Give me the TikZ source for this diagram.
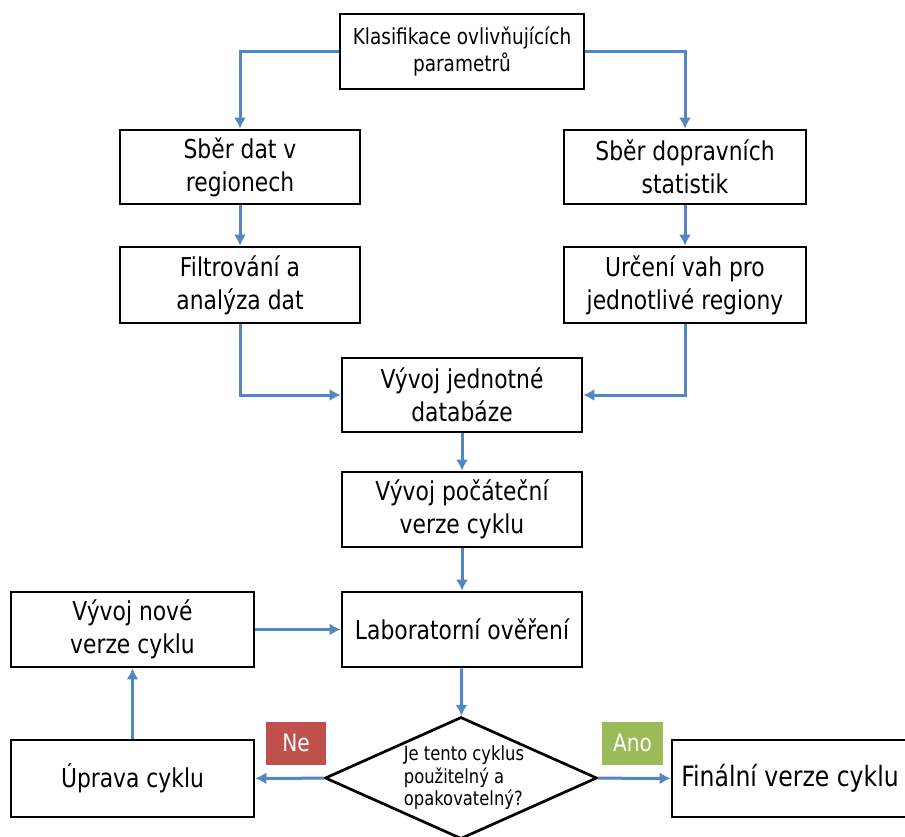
\documentclass[tikz,border=0pt]{standalone}
\usepackage{fontspec}
\setmainfont{DejaVu Sans}[FakeStretch=0.84]
\usepackage{tikz}
\usetikzlibrary{shapes,arrows,arrows.meta,calc,positioning}
\definecolor{flowblue}{RGB}{84,134,192}
\definecolor{nered}{RGB}{192,80,77}
\definecolor{anogreen}{RGB}{155,187,89}
\tikzset{
    stepbox/.style={
        rectangle,
        draw,
        line width=2.7pt,
        align=center,
        minimum width=240pt,
        minimum height=75pt,
        font=\fontsize{26}{33}\selectfont
    },
    decision/.style={
        diamond,
        draw,
        line width=2.7pt,
        aspect=2.23,
        inner sep=0pt,
        align=left,
        minimum width=272pt,
        minimum height=122pt,
        font=\fontsize{19.5}{22.5}\selectfont
    },
    answer/.style={
        rectangle,
        text=white,
        minimum width=60pt,
        minimum height=43pt,
        font=\fontsize{24}{28}\selectfont
    }
}

\begin{document}
\begin{tikzpicture}[
        x=1pt, y=-1pt,
        flow/.style={draw=flowblue, line width=3pt, -{Latex[length=11pt,width=12pt]}}
    ]
    \useasboundingbox (0,0) rectangle (905,837);
    \node[stepbox, minimum width=244pt, font=\fontsize{22}{27}\selectfont] (klas) at (462,51.5)
        {Klasifikace ovlivňujících\\parametrů};
    \node[stepbox, minimum height=74pt] (sber1) at (240,167) {Sběr dat v\\regionech};
    \node[stepbox, minimum width=242pt, minimum height=74pt] (sber2) at (685,167) {Sběr dopravních\\statistik};
    \node[stepbox, minimum height=76pt] (filtr) at (240,285) {Filtrování a\\analýza dat};
    \node[stepbox, minimum width=242pt, minimum height=76pt] (vahy) at (685,285) {Určení vah pro\\jednotlivé regiony};
    \node[stepbox, minimum height=74pt] (db) at (462,395) {Vývoj jednotné\\databáze};
    \node[stepbox] (poc) at (462,509.5) {Vývoj počáteční\\verze cyklu};
    \node[stepbox] (lab) at (462,629.5) {Laboratorní ověření};
    \node[stepbox, minimum width=243pt] (novy) at (132.5,629.5) {Vývoj nové\\verze cyklu};
    \node[decision] (dec) at (461,778) {\hspace*{6pt}Je tento cyklus\\\hspace*{6pt}použitelný a\\\hspace*{6pt}opakovatelný?};
    \node[stepbox, minimum width=243pt, minimum height=77pt] (uprava) at (132.5,778.5) {Úprava cyklu};
    \node[stepbox, minimum width=236pt, minimum height=77pt, font=\fontsize{28}{33}\selectfont] (final) at (790,778.5)
        {Finální verze cyklu};
    \node[answer, fill=nered] (ne) at (296,743) {Ne};
    \node[answer, fill=anogreen, minimum width=61pt] (ano) at (632.5,743) {Ano};

    % vetve shora
    \draw[flow] (klas.west) -| (sber1.north);
    \draw[flow] (klas.east) -| (sber2.north);
    \draw[flow] (sber1) -- (filtr);
    \draw[flow] (sber2) -- (vahy);
    \draw[flow] (filtr.south) |- (db.west);
    \draw[flow] (vahy.south) |- (db.east);
    % hlavni osa
    \draw[flow] (db) -- (poc);
    \draw[flow] (poc) -- (lab);
    \draw[flow] (lab) -- (dec);
    % rozhodnuti a smycka
    \draw[flow] (dec) -- (uprava);
    \draw[flow] (dec) -- (final);
    \draw[flow] (uprava) -- (novy);
    \draw[flow] (novy) -- (lab);
\end{tikzpicture}
\end{document}
